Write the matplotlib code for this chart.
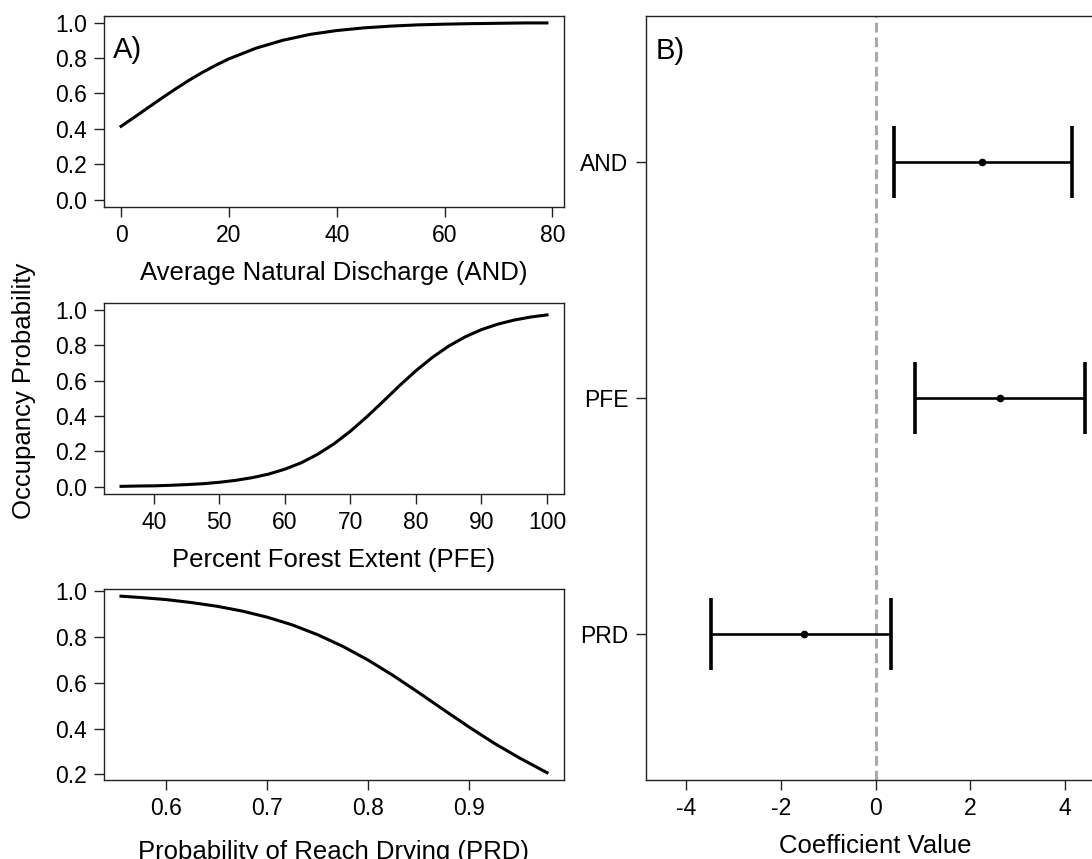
import matplotlib
matplotlib.use('Agg')
import matplotlib.pyplot as plt
import numpy as np

plt.rcParams['font.family'] = ['Liberation Sans', 'DejaVu Sans']

# Panel A: fitted occupancy curves
and_x = [0, 2.5, 5, 7.5, 10, 12.5, 15, 17.5, 20, 25, 30, 35, 40, 45, 50, 55, 60, 65, 70, 75, 79]
and_p = [0.414, 0.466, 0.519, 0.572, 0.623, 0.672, 0.717, 0.758, 0.795, 0.855, 0.900,
         0.933, 0.955, 0.970, 0.980, 0.987, 0.991, 0.994, 0.996, 0.998, 0.998]

pfe_x = [35, 37.5, 40, 42.5, 45, 47.5, 50, 52.5, 55, 57.5, 60, 62.5, 65, 67.5, 70,
         72.5, 75, 77.5, 80, 82.5, 85, 87.5, 90, 92.5, 95, 97.5, 100]
pfe_p = [0.003, 0.005, 0.006, 0.009, 0.013, 0.018, 0.026, 0.037, 0.052, 0.072, 0.100,
         0.136, 0.184, 0.243, 0.314, 0.395, 0.482, 0.571, 0.655, 0.730, 0.794, 0.846,
         0.887, 0.918, 0.941, 0.958, 0.970]

prd_x = [0.555, 0.575, 0.600, 0.625, 0.650, 0.675, 0.700, 0.725, 0.750, 0.775, 0.800,
         0.825, 0.850, 0.875, 0.900, 0.925, 0.950, 0.977]
prd_p = [0.979, 0.973, 0.964, 0.951, 0.935, 0.914, 0.887, 0.853, 0.810, 0.759, 0.699,
         0.631, 0.557, 0.481, 0.406, 0.335, 0.271, 0.207]

# Panel B: coefficient estimates with intervals
coef_names = ['AND', 'PFE', 'PRD']
coef_mean = [2.26, 2.63, -1.52]
coef_low = [0.39, 0.84, -3.48]
coef_high = [4.15, 4.43, 0.32]

W, H = 1092, 859
fig = plt.figure(figsize=(W / 100, H / 100), dpi=100)


def box(left, top, right, bottom):
    return [left / W, 1 - bottom / H, (right - left) / W, (bottom - top) / H]


tick_fs = 16.5
lab_fs = 18.5
panel_fs = 21


def style(ax):
    for s in ax.spines.values():
        s.set_linewidth(1.0)
        s.set_color('#222222')
    ax.tick_params(length=7, width=1.0, pad=5.5, labelsize=tick_fs, color='#222222')


ax1 = fig.add_axes(box(104, 15.5, 564, 206.7))
ax1.plot(and_x, and_p, color='black', lw=2.2)
ax1.set_xlim(-3.16, 82.16)
ax1.set_ylim(-0.04, 1.04)
ax1.set_xticks([0, 20, 40, 60, 80])
ax1.set_yticks([0.0, 0.2, 0.4, 0.6, 0.8, 1.0])
ax1.set_yticklabels(['0.0', '0.2', '0.4', '0.6', '0.8', '1.0'])
ax1.set_xlabel('Average Natural Discharge (AND)', fontsize=lab_fs, labelpad=10)
ax1.text(0.019, 0.821, 'A)', transform=ax1.transAxes, fontsize=panel_fs, ha='left', va='center')
style(ax1)

ax2 = fig.add_axes(box(104, 302.5, 564, 494))
ax2.plot(pfe_x, pfe_p, color='black', lw=2.2)
ax2.set_xlim(32.4, 102.6)
ax2.set_ylim(-0.04, 1.04)
ax2.set_xticks([40, 50, 60, 70, 80, 90, 100])
ax2.set_yticks([0.0, 0.2, 0.4, 0.6, 0.8, 1.0])
ax2.set_yticklabels(['0.0', '0.2', '0.4', '0.6', '0.8', '1.0'])
ax2.set_xlabel('Percent Forest Extent (PFE)', fontsize=lab_fs, labelpad=10)
style(ax2)

ax3 = fig.add_axes(box(104, 589, 564, 780))
ax3.plot(prd_x, prd_p, color='black', lw=2.2)
ax3.set_xlim(0.5382, 0.9938)
ax3.set_ylim(0.1752, 1.0104)
ax3.set_xticks([0.6, 0.7, 0.8, 0.9])
ax3.set_yticks([0.2, 0.4, 0.6, 0.8, 1.0])
ax3.set_xlabel('Probability of Reach Drying (PRD)', fontsize=lab_fs, labelpad=14)
style(ax3)

fig.text(24 / W, 1 - 391 / H, 'Occupancy Probability', rotation=90,
         fontsize=lab_fs, ha='center', va='center')

axb = fig.add_axes(box(645.5, 15.5, 1105.5, 780))
ypos = np.arange(len(coef_names))[::-1] + 1
mean = np.array(coef_mean)
err = [mean - np.array(coef_low), np.array(coef_high) - mean]
axb.axvline(0, color='#aaaaaa', lw=2.2, ls=(0, (3.2, 1.6)), zorder=1)
axb.errorbar(mean, ypos, xerr=err, fmt='o', ms=4.5, color='black',
             elinewidth=1.9, capsize=26, capthick=2.6, zorder=3)
axb.set_xlim(-4.86, 4.86)
axb.set_ylim(0.38, 3.62)
axb.set_xticks([-4, -2, 0, 2, 4])
axb.set_xticklabels(['-4', '-2', '0', '2', '4'])
axb.set_yticks(ypos)
axb.set_yticklabels(coef_names)
axb.set_xlabel('Coefficient Value', fontsize=lab_fs, labelpad=10)
axb.text(0.021, 0.954, 'B)', transform=axb.transAxes, fontsize=panel_fs, ha='left', va='center')
style(axb)

fig.savefig('out.png', dpi=100)
